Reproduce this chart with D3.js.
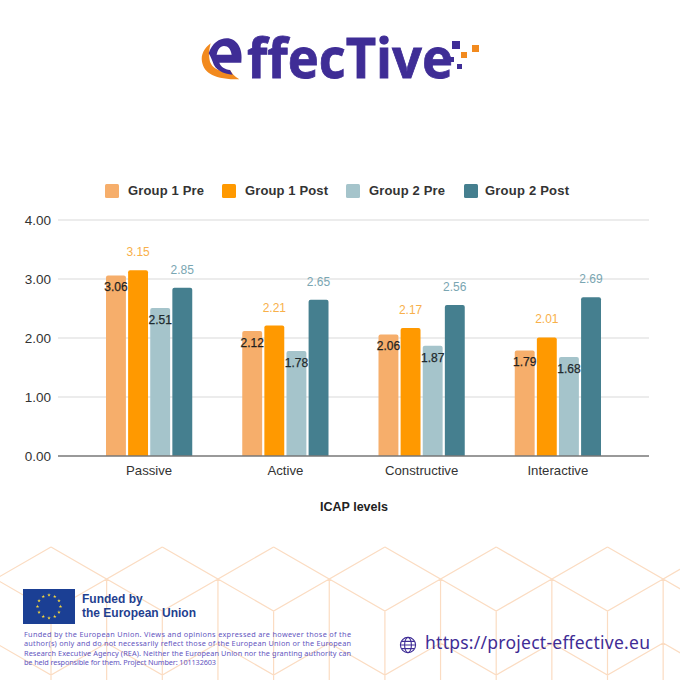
<!DOCTYPE html>
<html>
<head>
<meta charset="utf-8">
<style>
  html, body { margin: 0; padding: 0; background: #fff; }
  svg { display: block; }
  text { font-family: "Liberation Sans", Arial, sans-serif; }
</style>
<script src="https://cdn.jsdelivr.net/npm/d3@7"></script>
</head>
<body>
<div id="chart"></div>
<script>
const categories = ["Passive", "Active", "Constructive", "Interactive"];
const seriesNames = ["Group 1 Pre", "Group 1 Post", "Group 2 Pre", "Group 2 Post"];
const group1Pre = [3.06, 2.12, 2.06, 1.79];
const group1Post = [3.15, 2.21, 2.17, 2.01];
const group2Pre = [2.51, 1.78, 1.87, 1.68];
const group2Post = [2.85, 2.65, 2.56, 2.69];
const yTicks = [0, 1, 2, 3, 4];
const disclaimer = [
    "Funded by the European Union. Views and opinions expressed are however those of the",
    "author(s) only and do not necessarily reflect those of the European Union or the European",
    "Research Executive Agency (REA). Neither the European Union nor the granting authority can",
    "be held responsible for them. Project Number: 101132603"
];

const seriesValues = [group1Pre, group1Post, group2Pre, group2Post];
const barColors = ["#f6ae6b", "#ff9900", "#a5c4cb", "#457f8f"];
const labelColors = ["#1f1f1f", "#f8b04a", "#1f2a2d", "#7aa6b2"];
const labelInside = [true, false, true, false];
const navy = "#3f2d96";

const svg = d3.select("#chart").append("svg")
    .attr("width", 680)
    .attr("height", 680);

// cube pattern behind the footer
const hexW = 111.3, hexX0 = 51;
const pattern = d3.path();
for (let i = -1; i < 7; i++) {
    const a = hexX0 + i * hexW;
    const b = a + hexW / 2;
    // upper zigzag, then the lower one, then the verticals
    pattern.moveTo(a, 547); pattern.lineTo(b, 579); pattern.lineTo(a + hexW, 547);
    pattern.moveTo(b, 579); pattern.lineTo(a, 611); pattern.lineTo(b - hexW, 579);
    pattern.moveTo(b, 579); pattern.lineTo(b, 643);
    pattern.moveTo(a, 611); pattern.lineTo(a, 680);
    pattern.moveTo(b, 643); pattern.lineTo(a, 675); pattern.lineTo(b - hexW, 643);
    pattern.moveTo(b, 643); pattern.lineTo(b, 680);
}
svg.append("path")
    .attr("d", pattern.toString())
    .attr("fill", "none")
    .attr("stroke", "#fbdcc2")
    .attr("stroke-width", 1.2);

// logo, the paths are in the coordinates of a 3x crop
const logo = svg.append("g").attr("transform", "translate(180,20) scale(0.3333)");
logo.append("path")
    .attr("fill", "#f28a1e")
    .attr("d", "M92,70 C72,85 62,105 66,125 C72,160 105,178 178,178 C165,170 155,160 150,150 C130,156 100,152 90,125 C85,105 88,85 92,70 Z");
logo.append("path")
    .attr("fill", navy)
    .attr("fill-rule", "evenodd")
    .attr("d", "M86,100 C96,70 118,55 140,55 C170,55 190,85 184,128 L118,128 C122,140 135,148 150,150 L158,164 C130,162 105,150 98,125 C94,115 90,107 86,100 Z M110,104 L155,104 C152,88 145,78 132,78 C120,78 113,90 110,104 Z");
svg.append("text")
    .attr("x", 247)
    .attr("y", 78)
    .attr("textLength", 206)
    .attr("lengthAdjust", "spacingAndGlyphs")
    .style("font-family", "'Open Sans', sans-serif")
    .style("font-weight", 700)
    .style("font-size", "56px")
    .attr("fill", navy)
    .attr("stroke", navy)
    .attr("stroke-width", 0.8)
    .text("ffecTive");
const logoSquares = [
    [452, 41, 8, navy], [472, 45, 7, "#f28a1e"], [461, 52, 6, "#f28a1e"],
    [449, 57, 5, navy], [457, 64, 5, navy]
];
svg.append("g").selectAll("rect")
    .data(logoSquares)
    .join("rect")
    .attr("x", d => d[0])
    .attr("y", d => d[1])
    .attr("width", d => d[2])
    .attr("height", d => d[2])
    .attr("fill", d => d[3]);

// scales
const x = d3.scaleBand().domain(categories).range([81, 626]);
const inner = d3.scaleBand().domain(seriesNames).range([25, x.bandwidth() - 25]).paddingInner(0.1);
const y = d3.scaleLinear().domain([0, 4]).range([456, 220]);

// grid and y labels
svg.append("g").selectAll("line")
    .data(yTicks.filter(d => d > 0))
    .join("line")
    .attr("x1", 58)
    .attr("x2", 649)
    .attr("y1", d => y(d))
    .attr("y2", d => y(d))
    .attr("stroke", "#d9d9d9")
    .attr("stroke-width", 1.2);

svg.append("g").selectAll("text")
    .data(yTicks)
    .join("text")
    .attr("x", 51)
    .attr("y", d => y(d) + 5)
    .attr("text-anchor", "end")
    .attr("fill", "#333")
    .style("font-size", "13.5px")
    .text(d => d3.format(".2f")(d));

// bars
function barPath(x0, y0, w, h) {
    const r = Math.min(2, h);
    return `M${x0},${y0 + h}V${y0 + r}Q${x0},${y0} ${x0 + r},${y0}H${x0 + w - r}Q${x0 + w},${y0} ${x0 + w},${y0 + r}V${y0 + h}Z`;
}

const rows = seriesNames.flatMap((name, s) => categories.map((cat, c) => ({
    name, s, cat, value: seriesValues[s][c]
})));

svg.append("g").selectAll("path")
    .data(rows)
    .join("path")
    .attr("fill", d => barColors[d.s])
    .attr("d", d => barPath(x(d.cat) + inner(d.name), y(d.value), inner.bandwidth(), y(0) - y(d.value)));

svg.append("line")
    .attr("x1", 58)
    .attr("x2", 649)
    .attr("y1", y(0))
    .attr("y2", y(0))
    .attr("stroke", "#777")
    .attr("stroke-width", 1.3);

// value labels, two series sit inside the bar and two above it
svg.append("g").selectAll("text")
    .data(rows)
    .join("text")
    .attr("x", d => x(d.cat) + inner(d.name) + inner.bandwidth() / 2)
    .attr("y", d => y(d.value) + (labelInside[d.s] ? 16 : -14))
    .attr("text-anchor", "middle")
    .attr("fill", d => labelColors[d.s])
    .attr("stroke", d => labelInside[d.s] ? labelColors[d.s] : "none")
    .attr("stroke-width", 0.25)
    .style("font-size", "12px")
    .text(d => d3.format(".2f")(d.value));

// category labels and title
svg.append("g").selectAll("text")
    .data(categories)
    .join("text")
    .attr("x", d => x(d) + x.bandwidth() / 2)
    .attr("y", 475)
    .attr("text-anchor", "middle")
    .attr("fill", "#333")
    .style("font-size", "13.2px")
    .text(d => d);

svg.append("text")
    .attr("x", 354)
    .attr("y", 511)
    .attr("text-anchor", "middle")
    .attr("fill", "#222")
    .style("font-size", "12.5px")
    .style("font-weight", 700)
    .text("ICAP levels");

// legend
const legendSwatchX = [105, 222, 346, 464];
const legendTextX = [128, 245, 369, 485];
const legendTextW = [76, 83, 76, 84];
const legend = svg.append("g").selectAll("g")
    .data(seriesNames)
    .join("g");
legend.append("rect")
    .attr("x", (d, i) => legendSwatchX[i])
    .attr("y", 184)
    .attr("width", 14)
    .attr("height", 14)
    .attr("rx", 1.5)
    .attr("fill", (d, i) => barColors[i]);
legend.append("text")
    .attr("x", (d, i) => legendTextX[i])
    .attr("y", 195)
    .attr("textLength", (d, i) => legendTextW[i])
    .attr("fill", "#333")
    .style("font-size", "13px")
    .style("font-weight", 700)
    .text(d => d);

// EU flag
svg.append("rect")
    .attr("x", 23)
    .attr("y", 589)
    .attr("width", 52)
    .attr("height", 35)
    .attr("fill", "#1b3f94");
const star = d3.symbol().type(d3.symbolStar).size(4);
svg.append("g").selectAll("path")
    .data(d3.range(12))
    .join("path")
    .attr("d", star)
    .attr("fill", "#f5d63d")
    .attr("transform", d => {
        const a = d * Math.PI / 6;
        return `translate(${49 + 11.5 * Math.sin(a)},${606.5 - 11.5 * Math.cos(a)})`;
    });

svg.append("g").selectAll("text")
    .data(["Funded by", "the European Union"])
    .join("text")
    .attr("x", 82)
    .attr("y", (d, i) => 603 + i * 14)
    .attr("fill", "#1f3f8f")
    .style("font-size", "12px")
    .style("font-weight", 700)
    .text(d => d);

svg.append("g").selectAll("text")
    .data(disclaimer)
    .join("text")
    .attr("x", 24)
    .attr("y", (d, i) => 637 + i * 9.4)
    .attr("textLength", (d, i) => i < 3 ? 327 : 192)
    .attr("fill", "#6355c0")
    .style("font-family", "'Noto Sans', sans-serif")
    .style("font-size", "7.3px")
    .text(d => d);

// web address with globe
const globe = svg.append("g")
    .attr("transform", "translate(408,645)")
    .attr("fill", "none")
    .attr("stroke", navy)
    .attr("stroke-width", 1.1);
globe.append("circle").attr("r", 7.6);
globe.append("ellipse").attr("rx", 3.4).attr("ry", 7.6);
globe.append("path").attr("d", "M-7.6,0H7.6M-6.6,-3.6H6.6M-6.6,3.6H6.6");

svg.append("text")
    .attr("x", 425)
    .attr("y", 649)
    .attr("textLength", 225)
    .attr("fill", navy)
    .style("font-family", "'Noto Sans', sans-serif")
    .style("font-size", "17.5px")
    .text("https://project-effective.eu");
</script>
</body>
</html>
